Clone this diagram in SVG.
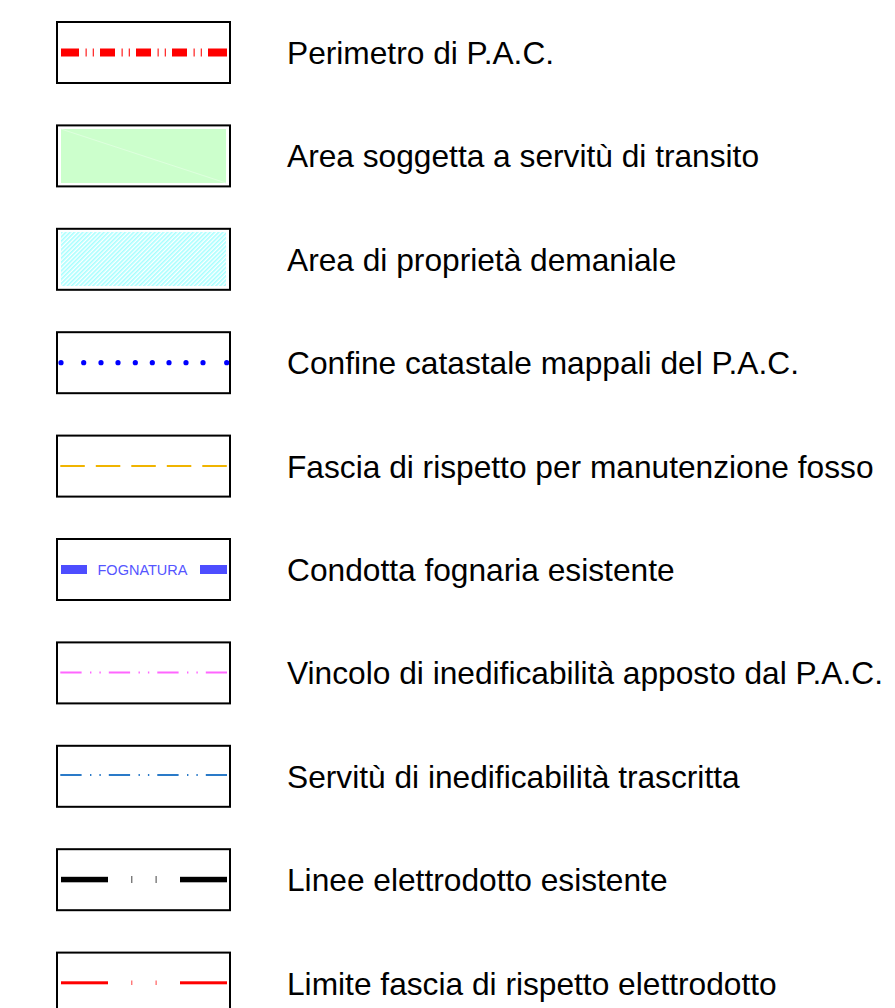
<svg xmlns="http://www.w3.org/2000/svg" width="895" height="1008" viewBox="0 0 895 1008">
<defs>
<style>
.box{fill:none;stroke:#000;stroke-width:2}
.lbl{font-family:"Liberation Sans",Arial,sans-serif;font-size:31.7px;fill:#000}
</style>
<pattern id="hatch" width="3" height="3" patternUnits="userSpaceOnUse" patternTransform="rotate(45)">
<rect x="0" y="0" width="1.6" height="3" fill="#a6ffff"/>
</pattern>
</defs>
<rect width="895" height="1008" fill="#fff"/>

<g id="n1">
<rect class="box" x="57" y="22" width="173" height="61"/>
<g fill="#ff0000">
<rect x="61" y="48.5" width="18" height="8"/>
<rect x="100" y="48.5" width="15" height="8"/>
<rect x="136" y="48.5" width="15" height="8"/>
<rect x="172" y="48.5" width="15" height="8"/>
<rect x="208" y="48.5" width="19" height="8"/>
</g>
<g fill="#ff3030">
<rect x="85.5" y="48.5" width="1.3" height="8"/><rect x="92.7" y="48.5" width="1.3" height="8"/>
<rect x="121.5" y="48.5" width="1.3" height="8"/><rect x="128.7" y="48.5" width="1.3" height="8"/>
<rect x="157.5" y="48.5" width="1.3" height="8"/><rect x="164.7" y="48.5" width="1.3" height="8"/>
<rect x="193.5" y="48.5" width="1.3" height="8"/><rect x="200.7" y="48.5" width="1.3" height="8"/>
</g>
<text class="lbl" x="287" y="64">Perimetro di P.A.C.</text>
</g>

<g id="n2">
<rect x="61" y="129" width="165" height="54" fill="#ccffcc"/>
<line x1="61" y1="129" x2="226" y2="183" stroke="#e2ffe2" stroke-width="0.8"/>
<rect class="box" x="57" y="125.4" width="173" height="61"/>
<text class="lbl" x="287" y="167.4">Area soggetta a servitù di transito</text>
</g>

<g id="n3">
<rect x="61" y="232" width="165" height="54" fill="url(#hatch)"/>
<rect class="box" x="57" y="228.8" width="173" height="61"/>
<text class="lbl" x="287" y="270.8">Area di proprietà demaniale</text>
</g>

<g id="n4">
<rect class="box" x="57" y="332.2" width="173" height="61"/>
<g fill="#0000ff">
<circle cx="61" cy="362.7" r="2.6"/><circle cx="83.7" cy="362.7" r="2.6"/><circle cx="101" cy="362.7" r="2.6"/>
<circle cx="118" cy="362.7" r="2.6"/><circle cx="135.3" cy="362.7" r="2.6"/><circle cx="152.3" cy="362.7" r="2.6"/>
<circle cx="169" cy="362.7" r="2.6"/><circle cx="186" cy="362.7" r="2.6"/><circle cx="203" cy="362.7" r="2.6"/>
<circle cx="226.7" cy="362.7" r="2.6"/>
</g>
<text class="lbl" x="287" y="374.2">Confine catastale mappali del P.A.C.</text>
</g>

<g id="n5">
<rect class="box" x="57" y="435.6" width="173" height="61"/>
<line x1="60.3" y1="466" x2="227" y2="466" stroke="#f0b400" stroke-width="2" stroke-dasharray="24.5 11"/>
<text class="lbl" x="287" y="477.6">Fascia di rispetto per manutenzione fosso</text>
</g>

<g id="n6">
<rect class="box" x="57" y="539" width="173" height="61"/>
<rect x="61" y="565" width="26" height="9" fill="#4d4dff"/>
<rect x="200" y="565" width="27" height="9" fill="#4d4dff"/>
<text x="142.5" y="575" text-anchor="middle" font-family="'Liberation Sans',Arial,sans-serif" font-size="14.5" fill="#5555ff">FOGNATURA</text>
<text class="lbl" x="287" y="581">Condotta fognaria esistente</text>
</g>

<g id="n7">
<rect class="box" x="57" y="642.4" width="173" height="61"/>
<line x1="60.3" y1="672.5" x2="227" y2="672.5" stroke="#ff66ff" stroke-width="2" stroke-dasharray="21.3 8.4 1.4 8 1.4 8"/>
<text class="lbl" x="287" y="684.4">Vincolo di inedificabilità apposto dal P.A.C.</text>
</g>

<g id="n8">
<rect class="box" x="57" y="745.8" width="173" height="61"/>
<line x1="60.3" y1="775" x2="227" y2="775" stroke="#2a7ac8" stroke-width="2" stroke-dasharray="21.3 8.4 1.4 8 1.4 8"/>
<text class="lbl" x="287" y="787.8">Servitù di inedificabilità trascritta</text>
</g>

<g id="n9">
<rect class="box" x="57" y="849.2" width="173" height="61"/>
<rect x="61" y="876.8" width="47" height="5.5" fill="#000"/>
<rect x="180" y="876.8" width="47" height="5.5" fill="#000"/>
<rect x="131.3" y="876" width="1" height="7" fill="#444"/>
<rect x="155.6" y="876" width="1" height="7" fill="#444"/>
<text class="lbl" x="287" y="891.2">Linee elettrodotto esistente</text>
</g>

<g id="n10">
<rect class="box" x="57" y="952.6" width="173" height="61"/>
<rect x="61" y="981.3" width="47" height="3" fill="#ff0000"/>
<rect x="180" y="981.3" width="47" height="3" fill="#ff0000"/>
<rect x="131.3" y="980.5" width="1" height="4.5" fill="#ff4040"/>
<rect x="155.6" y="980.5" width="1" height="4.5" fill="#ff4040"/>
<text class="lbl" x="287" y="994.6">Limite fascia di rispetto elettrodotto</text>
</g>

<g id="connectors"></g>
</svg>
